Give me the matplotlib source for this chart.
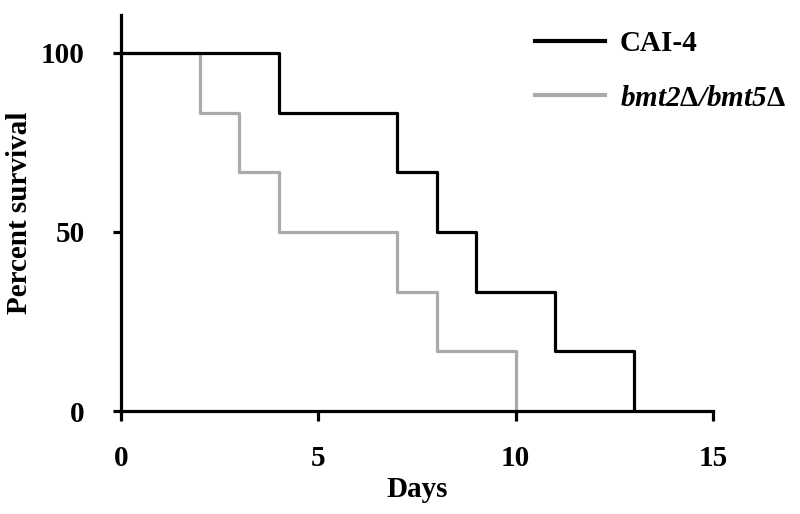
import matplotlib
matplotlib.use("Agg")
import matplotlib.pyplot as plt
from matplotlib.font_manager import FontProperties

plt.rcParams['font.family'] = ['Liberation Serif', 'DejaVu Serif']
plt.rcParams['mathtext.fontset'] = 'custom'
plt.rcParams['mathtext.rm'] = 'Liberation Serif:bold'
plt.rcParams['mathtext.bf'] = 'Liberation Serif:bold'
plt.rcParams['mathtext.it'] = 'Liberation Serif:bold:italic'
plt.rcParams['mathtext.bfit'] = 'Liberation Serif:bold:italic'

# Data (Kaplan-Meier steps)
cai4_days = [0, 4, 7, 8, 9, 11, 13]
cai4_surv = [100, 83.3, 66.7, 50, 33.3, 16.7, 0]
mut_days = [0, 2, 3, 4, 7, 8, 10]
mut_surv = [100, 83.3, 66.7, 50, 33.3, 16.7, 0]
labels = ["CAI-4", r"$\mathbfit{bmt2}\mathrm{\Delta}\mathbfit{/bmt5}\mathrm{\Delta}$"]
xticks = [0, 5, 10, 15]
yticks = [0, 50, 100]

FS = 21

fig = plt.figure(figsize=(8, 5.14), dpi=100)
ax = fig.add_axes([121/800, 1-411/514, (713-121)/800, (411-15)/514])

l1, = ax.step(cai4_days, cai4_surv, where='post', color='black', lw=2.3, zorder=3)
l2, = ax.step(mut_days, mut_surv, where='post', color='#aaaaaa', lw=2.3, zorder=2)

ax.set_xlim(0, 15)
ax.set_ylim(0, 110.6)
ax.set_xticks(xticks)
ax.set_yticks(yticks)
for s in ['top', 'right']:
    ax.spines[s].set_visible(False)
for s in ['left', 'bottom']:
    ax.spines[s].set_linewidth(2.3)
    ax.spines[s].set_zorder(4)
ax.spines['bottom'].set_bounds(0, 15)

ax.tick_params(axis='x', direction='out', length=7.5, width=2.3, pad=17,
               labelsize=FS)
ax.tick_params(axis='y', direction='out', length=6, width=2.3, pad=20,
               labelsize=FS)
for t in ax.get_xticklabels() + ax.get_yticklabels():
    t.set_fontweight('bold')

ax.set_xlabel('Days', fontsize=FS, fontweight='bold', labelpad=3)
ax.set_ylabel('Percent survival', fontsize=FS, fontweight='bold', labelpad=6)

leg = fig.legend([l1, l2], labels, loc='upper left',
                 bbox_to_anchor=(535/800, 1-30/514), frameon=False,
                 handlelength=2.4, handletextpad=0.5, labelspacing=0.95,
                 borderaxespad=0, borderpad=0,
                 prop=FontProperties(family='Liberation Serif', weight='bold', size=FS))
for h in leg.get_lines():
    h.set_linewidth(3)

fig.savefig('out.png', dpi=100)
